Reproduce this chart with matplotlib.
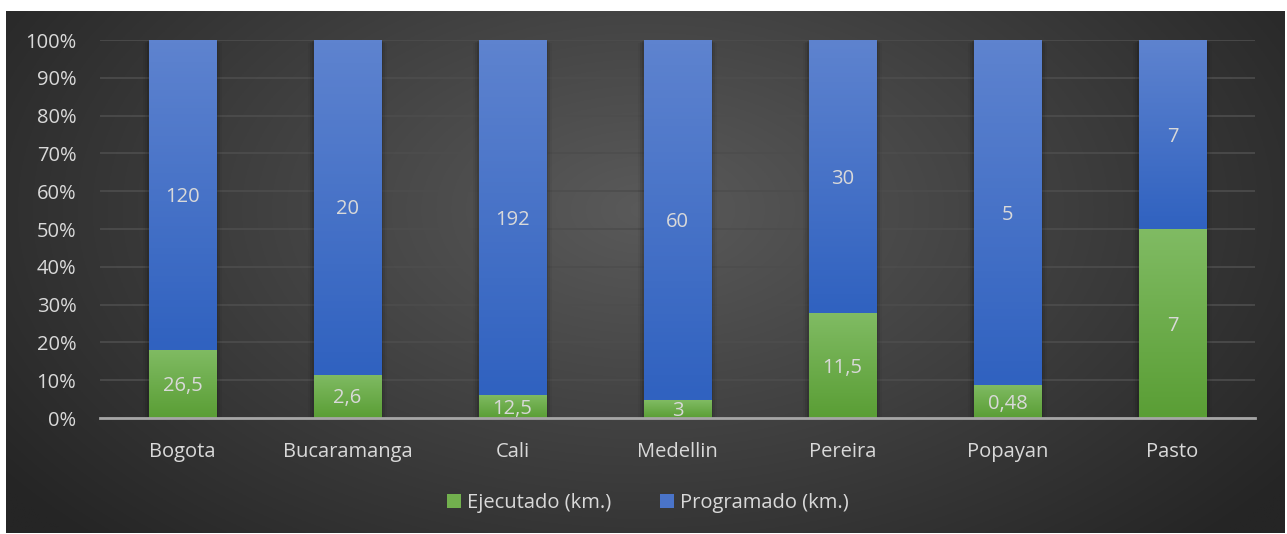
import numpy as np
import matplotlib
matplotlib.use("Agg")
import matplotlib.pyplot as plt
from matplotlib.colors import LinearSegmentedColormap
from matplotlib.patches import Patch

categories = ["Bogota", "Bucaramanga", "Cali", "Medellin", "Pereira", "Popayan", "Pasto"]
ejecutado = [26.5, 2.6, 12.5, 3, 11.5, 0.48, 7]
programado = [120, 20, 192, 60, 30, 5, 7]
ejec_labels = ["26,5", "2,6", "12,5", "3", "11,5", "0,48", "7"]
prog_labels = ["120", "20", "192", "60", "30", "5", "7"]
yticks = [0, 10, 20, 30, 40, 50, 60, 70, 80, 90, 100]

plt.rcParams['font.family'] = ['Open Sans', 'DejaVu Sans']

W, H = 1287, 534
fig = plt.figure(figsize=(W / 100, H / 100), dpi=100)
fig.patch.set_facecolor("white")

# background panel with radial gradient
bx0, by0, bx1, by1 = 6, 11, 1285, 533
bg = fig.add_axes([bx0 / W, 1 - by1 / H, (bx1 - bx0) / W, (by1 - by0) / H])
bg.set_axis_off()
yy, xx = np.mgrid[0:1:300j, 0:1:700j]
r = np.sqrt(((xx - 0.5) / 0.62) ** 2 + ((yy - 0.62) / 0.9) ** 2)
r = np.clip(r, 0, 1)
inner = np.array([0x5a, 0x5a, 0x5a]) / 255
outer = np.array([0x25, 0x25, 0x25]) / 255
img = inner[None, None, :] * (1 - r[..., None]) + outer[None, None, :] * r[..., None]
bg.imshow(img, aspect="auto", extent=[0, 1, 0, 1], origin="lower")
bg.set_xlim(0, 1)
bg.set_ylim(0, 1)

# plot area
px0, px1, py_top, py_bot = 100, 1255, 40, 418
ax = fig.add_axes([px0 / W, 1 - py_bot / H, (px1 - px0) / W, (py_bot - py_top) / H])
ax.set_facecolor("none")

tot = np.array(ejecutado) + np.array(programado)
ep = np.array(ejecutado) / tot * 100
pp = np.array(programado) / tot * 100
x = np.arange(len(categories))
bw = 0.41

green_cmap = LinearSegmentedColormap.from_list("g", ["#5a9e35", "#80bb63"])
blue_cmap = LinearSegmentedColormap.from_list("b", ["#3062c0", "#5e83cf"])

def grad_bar(xs, heights, bottoms, cmap):
    bars = ax.bar(xs, heights, bw, bottom=bottoms, color="none", zorder=3)
    for b in bars:
        bx, by = b.get_x(), b.get_y()
        bwid, bh = b.get_width(), b.get_height()
        # shadow
        for k, a in enumerate([0.10, 0.07, 0.04]):
            d = 0.012 * (k + 1)
            ax.add_patch(plt.Rectangle((bx - d, by - 0.3 * (k + 1)), bwid + 2 * d, bh,
                                       color="black", alpha=a, lw=0, zorder=2))
        grad = np.linspace(0, 1, 100)[:, None]
        im = ax.imshow(grad, cmap=cmap, aspect="auto",
                       extent=[bx, bx + bwid, by, by + bh], origin="lower", zorder=3)
        im.set_clip_path(b)
    return bars

grad_bar(x, ep, 0, green_cmap)
grad_bar(x, pp, ep, blue_cmap)

txt = "#d9d9d9"
fs = 14.5
for i in range(len(categories)):
    ax.annotate(ejec_labels[i], (x[i], ep[i] / 2), xytext=(0, -1.5), textcoords="offset points",
                ha="center", va="center", color=txt, fontsize=fs, zorder=5)
    ax.annotate(prog_labels[i], (x[i], ep[i] + pp[i] / 2), xytext=(0, -1.5), textcoords="offset points",
                ha="center", va="center", color=txt, fontsize=fs, zorder=5)

ax.set_xlim(-0.5, len(categories) - 0.5)
ax.set_ylim(0, 100)
ax.set_yticks(yticks)
ax.set_yticklabels([f"{v}%" for v in yticks])
ax.set_xticks(x)
ax.set_xticklabels(categories)
ax.tick_params(axis="both", length=0, colors=txt, labelsize=fs)
ax.tick_params(axis="y", pad=17)
ax.tick_params(axis="x", pad=17)
ax.grid(axis="y", color="#4d4d4d", lw=1.2, zorder=1)
ax.set_axisbelow(True)
for s in ["top", "right", "left"]:
    ax.spines[s].set_visible(False)
ax.spines["bottom"].set_color("#a6a6a6")
ax.spines["bottom"].set_linewidth(2)
ax.spines["bottom"].set_zorder(6)

handles = [Patch(facecolor="#72b04e", label="Ejecutado (km.)"),
           Patch(facecolor="#4a74c9", label="Programado (km.)")]
leg = fig.legend(handles=handles, loc="center", bbox_to_anchor=(648 / W, 1 - 503 / H),
                 ncol=2, frameon=False, fontsize=fs, labelcolor=txt,
                 handlelength=0.7, handleheight=0.7, handletextpad=0.3, columnspacing=2.4)

fig.savefig("out.png", dpi=100, facecolor="white")
